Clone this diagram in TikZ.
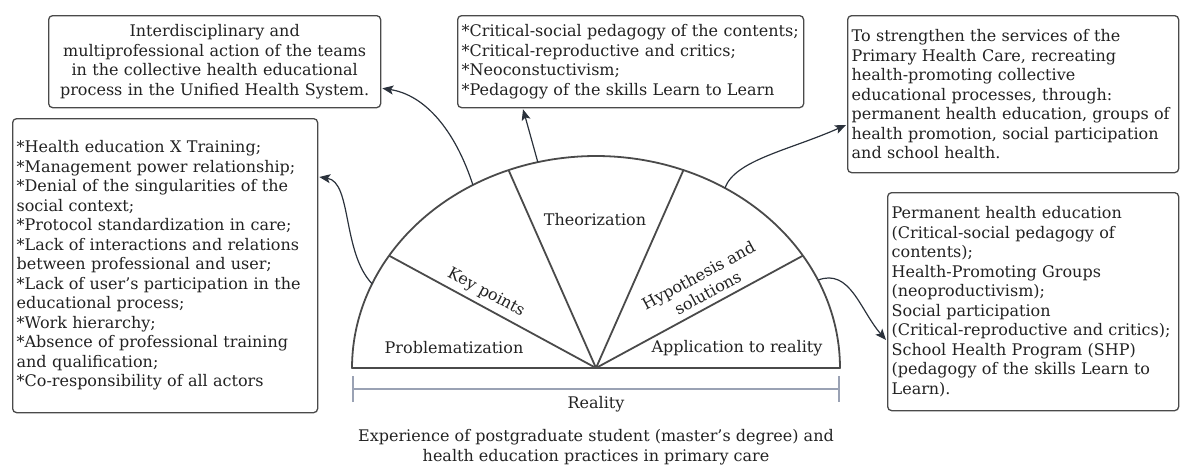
\documentclass[tikz,border=0pt]{standalone}
\usepackage{fontspec}
\setmainfont{DejaVu Serif}
\usetikzlibrary{arrows.meta,calc}

\definecolor{ink}{HTML}{222222}
\definecolor{edge}{HTML}{4a4a4a}
\definecolor{wire}{HTML}{2b323c}
\definecolor{rule}{HTML}{9aa2b4}

\begin{document}
\begin{tikzpicture}[x=1pt,y=-1pt,
  txt/.style={font=\fontsize{16}{19.5}\selectfont, text=ink},
  box/.style={draw=edge, line width=1.3pt, rounded corners=4pt, anchor=north west,
    inner xsep=4pt, inner ysep=0pt, txt, align=left},
  wedge/.style={draw=edge, line width=1.8pt, line join=round},
  link/.style={draw=wire, line width=1.2pt, -{Stealth[length=11pt,width=9pt,inset=2.5pt]}},
]
\useasboundingbox (0,0) rectangle (1180,471);

% text boxes
\node[box, minimum width=332pt, minimum height=92pt, text width=324pt, align=center] (boxA) at (48,15)
  {Interdisciplinary and\\ multiprofessional action of the teams\\ in the collective health educational\\ process in the Unified Health System.};
\node[box, minimum width=305pt, minimum height=294pt, text width=297pt] (boxB) at (12,118)
  {{*}Health education X Training;\\
   {*}Management power relationship;\\
   {*}Denial of the singularities of the\\
   social context;\\
   {*}Protocol standardization in care;\\
   {*}Lack of interactions and relations\\
   between professional and user;\\
   {*}Lack of user’s participation in the\\
   educational process;\\
   {*}Work hierarchy;\\
   {*}Absence of professional training\\
   and qualification;\\
   {*}Co-responsibility of all actors};
\node[box, minimum width=346pt, minimum height=92pt, text width=338pt] (boxC) at (457,15)
  {{*}Critical-social pedagogy of the contents;\\
   {*}Critical-reproductive and critics;\\
   {*}Neoconstuctivism;\\
   {*}Pedagogy of the skills Learn to Learn};
\node[box, minimum width=331pt, minimum height=157pt, text width=323pt] (boxD) at (847,15)
  {To strengthen the services of the\\
   Primary Health Care, recreating\\
   health-promoting collective\\
   educational processes, through:\\
   permanent health education, groups of\\
   health promotion, social participation\\
   and school health.};
\node[box, minimum width=291pt, minimum height=218pt, text width=283pt] (boxE) at (887,192)
  {Permanent health education\\
   (Critical-social pedagogy of\\
   contents);\\
   Health-Promoting Groups\\
   (neoproductivism);\\
   Social participation\\
   (Critical-reproductive and critics);\\
   School Health Program (SHP)\\
   (pedagogy of the skills Learn to\\
   Learn).};

% half-ellipse split into five sectors
\coordinate (O) at (596,368);
\draw[wedge] plot[domain=0:180, samples=150] ({596+244*cos(\x)},{368-212*sin(\x)}) -- cycle;
\foreach \t in {148,111,69,32}
  \draw[wedge] (O) -- ({596+244*cos(\t)},{368-212*sin(\t)});

\node[txt] (lp) at (454,348) {Problematization};
\node[txt, rotate=-28.4] (lk) at (486,293) {Key points};
\node[txt] (lt) at (595,220) {Theorization};
\node[txt, rotate=28.4, align=center] (lh) at (703,284) {Hypothesis and\\ solutions};
\node[txt] (la) at (737,348) {Application to reality};

% scale under the base
\coordinate (rl) at (352,389);
\coordinate (rr) at (840,389);
\draw[rule, line width=1.6pt, {Bar[width=26pt]}-{Bar[width=26pt]}] (rl) -- (rr);
\node[txt] (rlab) at (596,404) {Reality};

\node[txt, align=center] (cap) at (596,447)
  {Experience of postgraduate student (master’s degree) and\\ health education practices in primary care};

% connectors from the arc to the boxes
\coordinate (kA) at ({596+244*cos(120.3)},{368-212*sin(120.3)});
\coordinate (kB) at ({596+244*cos(156.6)},{368-212*sin(156.6)});
\coordinate (kC) at ({596+244*cos(103.8)},{368-212*sin(103.8)});
\coordinate (kD) at ({596+244*cos(58.1)},{368-212*sin(58.1)});
\coordinate (kE) at ({596+244*cos(24.5)},{368-212*sin(24.5)});

\draw[link] (kA) .. controls (455,130) and (425,95) .. ($(boxA.south east)+(1,-20)$);
\draw[link] (kB) .. controls (342,252) and (352,182) .. ($(boxB.north east)+(1,59)$);
\draw[link] (kC) .. controls (532,140) .. ($(boxC.south west)+(66,1)$);
\draw[link] (kD) .. controls (735,160) and (790,150) .. ($(boxD.north west)+(-1,110)$);
\draw[link] (kE) .. controls (850,268) and (860,310) .. ($(boxE.north west)+(-1,148)$);
\end{tikzpicture}
\end{document}
